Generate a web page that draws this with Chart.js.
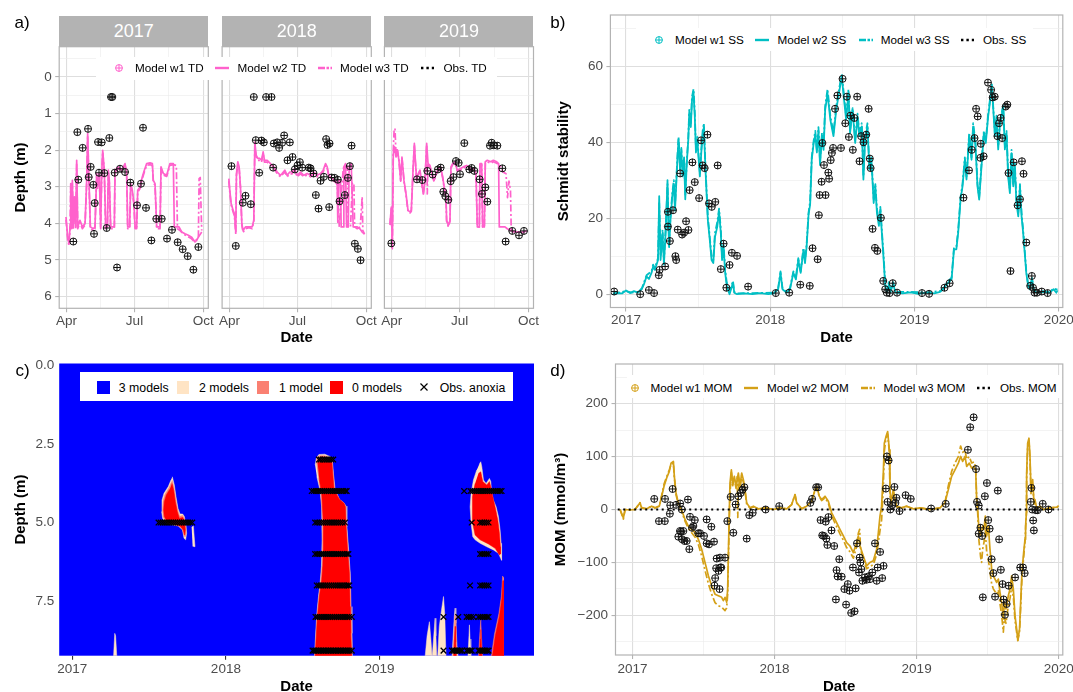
<!DOCTYPE html>
<html><head><meta charset="utf-8"><title>Lake model comparison</title>
<script src="https://cdn.jsdelivr.net/npm/chart.js@4.4.1/dist/chart.umd.min.js"></script>
<style>
html,body{margin:0;padding:0;background:#fff;}
#root{position:relative;width:1073px;height:692px;overflow:hidden;background:#fff;font-family:'Liberation Sans',Arial,Helvetica,sans-serif;}
#root canvas{position:absolute;}
.plab{position:absolute;font-size:17px;line-height:17px;color:#000;}
.strip{position:absolute;background:#b3b3b3;color:#fff;font-size:18px;display:flex;align-items:center;justify-content:center;}
.lbox{position:absolute;background:#fff;}
.ltxt{position:absolute;color:#000;white-space:nowrap;line-height:1;}
.lkey{position:absolute;line-height:0;}
</style></head>
<body><div id="root"></div>
<script>
// ================= DATA =================
// Panel a: thermocline depth (day of year, depth m)
const tdYears = ['2017', '2018', '2019'];
const tdMonthTicks = [91, 182, 274];
const tdMonthLabels = ['Apr', 'Jul', 'Oct'];
const tdMonthMinor = [136.5, 228];
const tdDepthTicks = [0, 1, 2, 3, 4, 5, 6];
const tdDepthMinor = [-0.5, 0.5, 1.5, 2.5, 3.5, 4.5, 5.5];
const tdSeriesNames = ['Model w1 TD', 'Model w2 TD', 'Model w3 TD', 'Obs. TD'];

const td2017Obs = [[100.1,4.5],[105.5,1.51],[106.8,2.81],[112.6,1.94],[119.8,1.42],[120.7,2.74],[123.3,2.46],[126.9,2.95],[127.8,4.29],[128.7,3.45],[133.2,1.78],[134.5,2.62],[138.1,1.79],[141.6,2.63],[144.8,4.13],[148.3,1.67],[150.6,0.55],[152.3,0.55],[155.5,2.62],[158.6,5.21],[162.6,2.51],[169.3,2.6],[176.4,2.89],[185.4,3.51],[190.7,2.92],[193.4,1.39],[197.4,3.58],[204.6,4.47],[211.2,3.88],[218.4,3.88],[225.5,4.42],[232.2,4.18],[239.8,4.52],[246.5,4.71],[253.2,4.9],[260.8,5.27],[267.5,4.65]];
const td2017W2 = [[90.3,3.83],[92.6,4.38],[94.3,4.56],[95.7,4.1],[96.6,2.92],[97.9,4.1],[98.8,2.83],[100.1,4.1],[101.5,3.28],[103.3,4.1],[104.6,2.28],[106,4.1],[109,3.92],[112.2,4.1],[115.8,4.01],[118,2.83],[119.3,1.55],[121.1,2.83],[122.9,4.1],[126.9,4.15],[129.1,4.1],[131.4,2.64],[132.7,3.01],[134.9,2.64],[136.7,4.1],[138.1,2.64],[139.4,2.01],[141.6,2.55],[143.4,4.1],[145.7,4.1],[147,2.55],[148.3,2.83],[150.1,4.1],[155,4.1],[155.9,2.55],[160.4,2.46],[164.8,2.55],[167.1,2.46],[169.3,2.37],[171.5,2.6],[172.9,4.1],[175.5,4.1],[176.9,2.92],[179.1,3.1],[181.3,3.46],[182.7,4.1],[184.9,4.1],[186.3,3.1],[189.4,3.01],[192.5,2.73],[195.2,2.55],[198.3,2.37],[202.8,2.35],[205.9,2.37],[207.2,2.83],[209.5,2.92],[211.7,4.1],[216.2,4.1],[217.5,2.46],[220.6,2.64],[225.1,2.69],[229.5,2.37],[234,2.37],[235.3,4.1],[241.6,4.1],[245.2,4.24],[249.6,4.29],[254.1,4.33],[258.6,4.38],[263,4.51],[265.2,4.47],[267.5,4.38],[272,4.24]];
const td2017W3 = [[90.3,3.9],[92.6,4.45],[94.3,4.62],[95.7,4.15],[96.6,3.0],[97.9,4.15],[98.8,2.9],[100.1,4.15],[101.5,3.35],[103.3,4.15],[104.6,2.35],[106,4.15],[109,3.98],[112.2,4.15],[115.8,4.05],[118,2.9],[119.3,1.6],[121.1,2.9],[122.9,4.15],[126.9,4.2],[129.1,4.15],[131.4,2.7],[132.7,3.05],[134.9,2.7],[136.7,4.15],[138.1,2.7],[139.4,2.05],[141.6,2.6],[143.4,4.15],[145.7,4.15],[147,2.6],[148.3,2.9],[150.1,4.15],[155,4.15],[155.9,2.6],[160.4,2.5],[164.8,2.6],[167.1,2.5],[169.3,2.42],[171.5,2.65],[172.9,4.15],[175.5,4.15],[176.9,2.95],[179.1,3.15],[181.3,3.5],[182.7,4.15],[184.9,4.15],[186.3,3.15],[189.4,3.05],[192.5,2.78],[195.2,2.6],[198.3,2.42],[202.8,2.4],[205.9,2.42],[207.2,2.88],[209.5,2.97],[211.7,4.15],[216.2,4.15],[217.5,2.5],[220.6,2.68],[225.1,2.72],[229.5,2.42],[234,2.4],[238,2.42],[239.5,4.15],[243,4.2],[248,4.3],[253,4.36],[258,4.42],[262,4.5],[265,4.45],[267.5,4.4],[268.5,2.78],[270,2.75],[271,3.5],[272,4.2]];

const td2018Obs = [[93.7,2.44],[99.5,4.62],[108.9,3.44],[112.5,3.25],[119.6,3.48],[123.6,0.55],[126.3,1.73],[130.8,2.62],[133.9,1.74],[137,1.79],[140.1,0.55],[147.3,0.55],[149.5,2.48],[150.4,1.82],[154.9,1.79],[157.5,1.94],[161.5,1.8],[164.2,1.6],[168.7,2.28],[171.8,1.79],[175.4,2.19],[178.5,2.53],[182.1,2.42],[185.2,2.33],[188.3,2.48],[197.2,2.48],[199.5,2.5],[203.5,2.64],[206.6,3.23],[210.2,3.6],[212.9,2.84],[217.3,2.73],[220.4,1.7],[222.2,1.86],[224.5,3.56],[224.9,1.82],[227.6,2.75],[231.6,2.76],[236,2.81],[238.3,3.4],[245.4,3.23],[249.5,2.76],[252.1,2.44],[254.4,1.88],[258.8,4.56],[262.8,4.7],[266.4,5.01]];
const td2018W2 = [[90.2,2.78],[91.5,3.1],[93.3,3.46],[96,3.65],[97.7,3.74],[99.5,4.24],[100.4,2.64],[102.2,2.32],[104,2.46],[105.8,3.01],[107.6,4.01],[109.3,4.2],[112.5,4.1],[116.9,4.1],[121.4,4.1],[123.6,3.92],[125,1.78],[126.7,2.14],[129,2.23],[131.7,2.23],[133.9,2.28],[136.1,2.05],[137.9,2.28],[141.5,2.28],[145.9,2.37],[150.4,2.46],[154.9,2.6],[159.3,2.69],[161.5,2.64],[165.1,2.55],[168.2,2.69],[171.8,2.6],[174.9,2.6],[178.1,2.51],[181.6,2.69],[186.1,2.6],[190.5,2.69],[195,2.64],[199.5,2.69],[203.9,2.6],[208.4,2.69],[212.9,2.64],[216.4,2.55],[219.6,2.37],[221.8,2.46],[224,2.69],[228.5,2.78],[232.9,2.83],[235.2,2.92],[236,3.97],[237.4,2.83],[239.6,2.83],[240.5,4.1],[243.2,4.1],[244.1,2.46],[246.3,2.37],[247.7,4.1],[249.9,4.1],[251.2,2.46],[253.9,2.37],[256.6,4.1],[262,4.1],[265.5,4.15],[268.6,4.24],[271.8,4.3]];
const td2018W3 = [[90.2,2.85],[91.5,3.15],[93.3,3.5],[96,3.7],[97.7,3.8],[99.5,4.3],[100.4,2.7],[102.2,2.4],[104,2.5],[105.8,3.05],[107.6,4.05],[109.3,4.25],[112.5,4.15],[116.9,4.12],[121.4,4.15],[123.6,3.95],[125,1.85],[126.7,2.2],[129,2.28],[131.7,2.28],[133.9,2.33],[136.1,2.1],[137.9,2.33],[141.5,2.33],[145.9,2.42],[150.4,2.5],[154.9,2.65],[159.3,2.73],[161.5,2.68],[165.1,2.6],[168.2,2.73],[171.8,2.65],[174.9,2.65],[178.1,2.55],[181.6,2.73],[186.1,2.65],[190.5,2.73],[195,2.68],[199.5,2.73],[203.9,2.65],[208.4,2.73],[212.9,2.68],[216.4,2.6],[219.6,2.42],[221.8,2.5],[224,2.73],[228.5,2.82],[232.9,2.88],[235.2,2.95],[236.5,3.5],[238,4.1],[240.5,3.3],[243.2,2.5],[246.3,2.4],[248.5,2.45],[250,4.1],[253,4.1],[255.5,2.9],[257.5,2.9],[258.5,4.1],[262,4.15],[266,4.1],[268.6,3.28],[269.5,4.2],[271.8,4.3]];

const td2019Obs = [[90.5,4.55],[124.8,2.8],[132,2.82],[138.7,2.57],[145.8,2.67],[152.9,2.53],[156.5,2.48],[160.1,3.14],[162.8,3.26],[166.8,3.36],[169.9,2.85],[173.5,2.74],[177,2.3],[180.6,2.35],[182.4,2.66],[188.2,1.81],[194.9,2.53],[198,2.49],[201.6,2.57],[208.7,2.8],[211.8,3.2],[216.3,3.02],[219,3.41],[222.5,1.88],[224.8,1.8],[227.5,1.87],[232.4,1.88],[239.1,2.5],[243.5,4.5],[252.4,4.21],[261.4,4.33],[268,4.21]];
const td2019W2 = [[88.7,4.01],[90.5,3.56],[91.8,4.65],[93.1,2.1],[94.9,1.91],[96.7,2.19],[98.5,2.01],[100.7,2.28],[103,2.83],[104.7,2.19],[107.4,2.83],[110.1,3.19],[112.8,3.65],[115.5,3.69],[117.2,3.65],[119.9,2.37],[121.3,1.82],[122.6,2.28],[124.4,2.83],[126.6,2.64],[128.8,2.55],[133.3,3.19],[135.5,2.83],[137.8,1.82],[139.6,2.37],[142.2,2.42],[144.9,2.64],[147.6,2.83],[150.3,2.64],[153.4,2.51],[156.5,2.46],[159.2,2.73],[161.9,3.1],[163.6,3.28],[164.5,3.92],[166.8,4.06],[169,3.92],[170.3,2.46],[172.6,2.37],[175.7,2.32],[178.8,2.55],[182.4,2.51],[186.8,2.46],[191.3,2.42],[194.9,2.46],[198,2.55],[201.1,2.51],[203.8,2.64],[205.6,4.1],[208.3,4.1],[209.2,2.37],[211.4,2.37],[212.7,4.1],[215,4.1],[216.3,2.32],[219,2.28],[223.4,2.32],[227,2.28],[231.5,2.32],[234.1,2.37],[235,4.1],[242.6,4.1],[245.7,4.15],[250.2,4.2],[253.8,4.24],[260.5,4.24],[267.2,4.24],[271.6,4.21]];
const td2019W3 = [[88.7,4.05],[90.5,3.6],[91.8,4.7],[93.1,2.0],[94.2,1.45],[95.4,1.41],[96.7,2.1],[98.5,1.95],[100.7,2.3],[103,2.85],[104.7,2.2],[107.4,2.85],[110.1,3.22],[112.8,3.68],[115.5,3.72],[117.2,3.68],[119.9,2.4],[121.3,1.85],[122.6,2.3],[124.4,2.85],[126.6,2.68],[128.8,2.58],[133.3,3.22],[135.5,2.86],[137.8,1.85],[138.6,3.2],[139.6,2.4],[142.2,2.45],[144.9,2.68],[147.6,2.86],[150.3,2.68],[153.4,2.55],[156.5,2.5],[159.2,2.76],[161.9,3.13],[163.6,3.3],[164.5,3.95],[166.8,4.1],[169,3.95],[170.3,2.5],[172.6,2.4],[175.7,2.35],[178.8,2.58],[182.4,2.55],[186.8,2.5],[191.3,2.45],[194.9,2.5],[198,2.58],[201.1,2.55],[203.8,2.68],[205.6,4.1],[208.3,4.1],[209.2,2.4],[211.4,2.4],[212.7,4.1],[215,4.1],[216.3,2.36],[219,2.32],[223.4,2.36],[227,2.32],[231.5,2.36],[236,2.42],[240,2.6],[244,2.65],[246,3.3],[248,2.85],[250,3.1],[251,4.2],[255,4.22],[260.5,4.25],[267.2,4.26],[271.6,4.22]];

// Shared date axis (days since 2017-01-01)
const yearTicks = [0, 365, 730, 1095];
const yearLabels = ['2017', '2018', '2019', '2020'];
const yearMinor = [182.5, 547.5, 912.5];

// Panel b: Schmidt stability
const ssTicks = [0, 20, 40, 60];
const ssMinor = [10, 30, 50, 70];
const ssSeriesNames = ['Model w1 SS', 'Model w2 SS', 'Model w3 SS', 'Obs. SS'];
const ssObs = [[-30,0.7],[36,0],[58,1.1],[71,0.3],[83,5],[85,6.4],[99,7.3],[106,17.8],[106,21.7],[111,14],[119,22.1],[125,10],[127,9],[131,17],[137,31.8],[142,15.7],[147,16.2],[152,19.2],[158,16.9],[161,27.4],[168,34.7],[174,29.5],[185,25.3],[190,40.5],[194,33.9],[199,33.2],[206,42],[210,23.9],[217,23],[226,24.3],[232,33.9],[240,6.6],[247,13.3],[254,1.7],[262,7.7],[268,10.9],[281,10.1],[309,2],[379,0.3],[413,0.4],[441,2.5],[465,2.2],[472,12.1],[485,9.2],[488,20.8],[490,26.1],[495,29.6],[497,39.8],[501,34],[505,26.1],[512,32],[514,30.4],[518,35.3],[521,37.2],[524,38.5],[529,48.8],[535,52.3],[544,38.5],[548,56.7],[555,45],[559,52],[564,41.4],[568,47],[574,38],[578,46.4],[585,52],[591,35],[595,41.6],[601,40],[608,42],[614,48.8],[617,35.7],[619,33.2],[624,17.2],[630,12.2],[636,11.4],[645,20.1],[651,3.5],[656,1.3],[660,0.4],[667,0.3],[675,2.9],[686,0.4],[749,0.3],[767,0.1],[806,1.7],[819,2.9],[854,25.4],[868,32.6],[875,38],[882,41.1],[886,48.8],[890,46.8],[897,35.9],[898,39.6],[905,36.3],[916,55.7],[924,53.8],[928,51.8],[933,52],[940,41.6],[944,45],[948,46.4],[952,41.1],[961,49.4],[965,49.9],[968,31.9],[973,6.1],[981,34.7],[991,23.4],[997,25],[1002,35],[1006,31.7],[1013,13.6],[1023,2.2],[1027,4.8],[1030,1.7],[1034,0.4],[1040,0.4],[1052,0.7],[1067,0.3]];
const ssW2 = [[-33,0],[-20,0.3],[-10,0.2],[0,1],[10,0.3],[20,0.8],[30,0.4],[39.5,1.3],[45,2.5],[52,4.7],[58,4],[64.5,5.6],[68.7,7.3],[73,6.4],[81,9],[84,25.8],[87.5,9],[92.5,16],[96,7.8],[101,17.8],[105,30],[109,12.4],[112.5,19.5],[117.5,26.3],[121,29],[124,22],[130,35.4],[133,40.7],[136.6,32.8],[140,38],[143,31],[147,35.4],[150,25],[153.5,34],[157.7,40.7],[160,47.7],[164,44],[167,51],[170.5,53.4],[174,47],[177,37.3],[180.5,40.7],[184,35.4],[187,31],[190.5,37.3],[194,42],[197,44],[200.6,34],[204,26.3],[207,19.6],[212,14.3],[216.5,9],[221,8.2],[225,15],[231,17.8],[235.5,21.8],[240,16],[243,9],[247,12.4],[251,5.6],[255,2.2],[262,0],[270.7,3],[274,0.4],[281,0],[300,0.2],[320,0],[340,0.3],[360,0],[374,0.2],[385,1.3],[391,5.6],[396,1.3],[406,0.4],[415,1.3],[423.5,5.6],[430,3.9],[436,9],[442,5.6],[449,11.6],[453,8.2],[457,12.4],[462,21],[466,23.6],[470,35.4],[475,39.8],[479,42],[483,37.3],[487,43],[491,34],[496,41.6],[500,38],[504,48.5],[510,52.8],[517,46],[525,41.6],[532,48.5],[537.5,52],[546,57.3],[552,51],[557,46],[563,53],[567,42.4],[573.5,48.5],[580,39.8],[586,46.8],[590.5,41.6],[596.6,44.2],[600.8,30.2],[605,40.7],[611,44.2],[616,32.8],[621,35.4],[626.8,24],[631,28.4],[635,21.4],[640,18],[643.6,22.3],[648,15.3],[652,9],[656,2.2],[660.6,0.4],[665,2.6],[669,0.4],[675.8,2.8],[682,0.4],[700,0.2],[720,0.5],[740,0.1],[760,0.4],[780,0.2],[795,0.6],[803,1.3],[815,3],[824,3.9],[830,11.8],[836,11.8],[840.7,16.2],[846.6,24.9],[851.6,28.4],[857.5,35.4],[861.7,30.2],[868.5,41.6],[874.4,35.4],[878.6,44.2],[884.5,39],[889.5,28.4],[893.8,24.9],[899.7,33.7],[905.6,42.4],[910.6,39.8],[916.5,46.8],[920.8,50.3],[925.8,54.7],[929,49.4],[933.5,41.6],[937.7,46],[941.9,38.1],[946,44.2],[950.4,46.8],[954.6,49.4],[958.8,38.1],[963,42.4],[967,31],[971.5,26.6],[975.7,37.1],[980,28.4],[984,33.7],[988,24],[992.7,20.5],[997,28.4],[1001,20.5],[1005,16.2],[1009,10.9],[1013,5.6],[1017.6,2.2],[1022,1.3],[1027.6,3.9],[1032,0.9],[1039,0.4],[1055.5,0.6],[1072,0.4],[1082,1.3],[1089,0.4],[1092,1]];
const ssW3 = [[-33,0.2],[-15,0.5],[0,0.8],[15,0.4],[30,0.6],[40,1.5],[52,5],[64.5,6],[68.7,7.8],[73,6.8],[81,9.5],[84,24],[87.5,10],[92.5,17],[96,8.5],[101,18.5],[105,29],[109,13],[112.5,20.5],[117.5,27],[121,30],[124,23],[130,36],[133,41.5],[136.6,33.5],[140,38.5],[143,31.5],[147,36],[150,26],[153.5,34.5],[157.7,41.5],[160,48.5],[164,45],[167,52],[171,54],[174,48],[177,38],[180.5,41.5],[184,36],[187,32],[190.5,38],[194,43],[197,45],[200.6,35],[204,27],[207,20.5],[212,15],[216.5,10],[221,9],[225,16],[231,19],[235.5,22.5],[240,17],[243,10],[247,13],[251,6.5],[255,3],[262,0.5],[270.7,3.5],[274,0.6],[281,0.2],[320,0.3],[374,0.4],[385,1.6],[391,6],[396,1.6],[406,0.6],[415,1.6],[423.5,6],[430,4.5],[436,9.5],[442,6],[449,12.2],[453,9],[457,13],[462,21.5],[466,24.5],[470,36],[475,40.5],[479,43],[483,38],[487,44],[491,35],[496,42.5],[500,39],[504,49.5],[510,54],[517,47],[525,42.5],[532,49.5],[537.5,53],[546,58],[552,52],[557,47],[563,54],[567,43],[573.5,49],[580,40.5],[586,47.5],[590.5,42.5],[596.6,45],[600.8,31],[605,41.5],[611,45],[616,33.5],[621,36],[626.8,25],[631,29],[635,22.5],[640,19],[643.6,23],[648,16],[652,10],[656,3],[660.6,0.8],[665,3.2],[669,0.8],[675.8,3.2],[682,0.6],[720,0.6],[760,0.5],[795,0.8],[803,1.6],[815,3.4],[824,4.4],[830,12.3],[836,12.5],[840.7,17],[846.6,25.5],[851.6,29],[857.5,36],[861.7,31],[868.5,42.5],[874.4,36],[878.6,45],[884.5,40],[889.5,29],[893.8,25.5],[899.7,34.5],[905.6,43],[910.6,40.5],[916.5,47.5],[920.8,51],[925.8,55.5],[929,50],[933.5,42.5],[937.7,47],[941.9,39],[946,45],[950.4,47.5],[954.6,50],[958.8,39],[963,43],[967,32],[971.5,27.5],[975.7,38],[980,29],[984,34.5],[988,25],[992.7,21.5],[997,29],[1001,21.5],[1005,17],[1009,11.5],[1013,6],[1017.6,2.8],[1022,1.6],[1027.6,4.3],[1032,1.2],[1039,0.6],[1055.5,0.8],[1072,0.6],[1082,1.5],[1092,1.2]];

// Panel c: anoxia agreement (days since 2017-01-01, depth m)
const anoxDepthTicks = [0, 2.5, 5, 7.5];
const anoxYearTicks = [0, 365, 730];
const anoxYearLabels = ['2017', '2018', '2019'];
const anoxCategories = ['3 models', '2 models', '1 model', '0 models'];
const anox2017Outer = [[237.7,3.545],[242.5,3.81],[246.5,4.18],[251.2,4.55],[256,4.73],[262.3,4.73],[266.3,4.81],[270.2,5.08],[271.8,5.34],[269.4,5.55],[265.5,5.5],[262.3,5.24],[252,5.11],[240.1,5.08],[224.3,5.03],[214.8,4.87],[212.4,4.66],[213.2,4.29],[218,4.07],[228.2,3.86],[234.6,3.65]];
const anox2017Salmon = [[237.3,3.66],[241.7,3.9],[245.7,4.26],[250.4,4.6],[255.2,4.8],[262.3,4.78],[266.6,4.88],[269.4,5.15],[270.4,5.35],[268,5.46],[264.7,5.38],[261,5.2],[252,5.1],[240.1,5.06],[225,5.0],[216.6,4.84],[214.6,4.62],[215.8,4.31],[220.6,4.1],[229.8,3.9],[235.6,3.72]];
const anox2017Red = [[237,3.76],[240.9,3.97],[244.9,4.34],[249.6,4.66],[254.4,4.87],[262.3,4.84],[267,4.97],[268.6,5.24],[267,5.4],[263.9,5.24],[256,5.11],[240.1,5.05],[225.9,4.98],[218.7,4.81],[217.1,4.6],[218.7,4.34],[223.5,4.13],[231.4,3.95]];
const anox2017Sliver = [[283.7,5.15],[287.7,5.11],[291.6,5.77],[286,5.75]];
const anox2017Spring = [[98,9.3],[101,8.52],[103,8.6],[106,9.3]];
const anox2018Outer = [[577,3.17],[580,2.95],[586,2.84],[600,2.83],[612,2.9],[617.5,2.97],[620.5,3.44],[624.5,3.95],[635,4.27],[645,4.37],[650.5,4.48],[652.5,5.13],[656,5.77],[660.5,6.61],[662.3,7.67],[664.6,8.52],[665.8,9.3],[575.2,9.3],[577.5,8.73],[580.5,7.99],[585,7.35],[589,6.9],[592,6.4],[593.5,5.56],[592.5,4.5],[588.5,3.97],[581,3.54]];
const anox2018Salmon = [[580,3.12],[582,2.92],[588,2.88],[600,2.88],[612,2.94],[617,3.0],[620,3.44],[623.5,3.96],[635,4.27],[645.5,4.38],[649.8,4.49],[651.5,5.13],[655,5.77],[659.5,6.61],[661.2,7.67],[663.4,8.52],[664.8,9.3],[576,9.3],[578.5,8.73],[581.5,7.99],[586,7.35],[590.5,6.86],[593.5,6.4],[595,5.7],[594.5,4.9],[590.5,4.02],[585,3.6]];
const anox2018Red = [[583.1,3.12],[584.7,2.96],[590,2.92],[600,2.93],[610,2.97],[616.4,3.02],[618.8,3.44],[622,3.97],[634.6,4.26],[645.7,4.39],[648.9,4.5],[650.5,5.13],[653.6,5.77],[658.4,6.61],[660,7.67],[661.6,8.52],[664,9.3],[576.8,9.3],[579.2,8.73],[582.4,7.99],[587.1,7.35],[592.7,6.82],[595,6.4],[596.6,5.77],[596.6,5.03],[592.7,4.07],[587.1,3.65]];
const anox2019Outer = [[967,3.15],[970.5,3.07],[973,3.23],[977,3.65],[983.2,3.76],[991.1,3.6],[994.3,3.7],[996.7,4.07],[1000.6,4.29],[1007,4.5],[1012.5,4.81],[1016.5,5.24],[1018.9,5.66],[1020.4,6.08],[1019.5,6.2],[1018,6.14],[1012.5,5.98],[1000.6,5.87],[984.8,5.77],[969,5.66],[957.1,5.55],[951.5,5.45],[947.6,5.03],[945.2,4.5],[947.6,4.07],[953.1,3.65],[961,3.33]];
const anox2019Red = [[965,3.44],[970.5,3.39],[975.3,3.7],[984.8,3.81],[991.1,3.7],[994.3,3.86],[999.1,4.18],[1005.4,4.55],[1011,4.92],[1014.9,5.34],[1017.3,5.77],[1017.5,6.0],[1014.9,6.03],[1004.6,5.82],[988.7,5.68],[969,5.55],[957.1,5.4],[951.5,5.03],[949.9,4.6],[951.5,4.18],[957.1,3.76]];
const anox2019Bottom = [[838,9.3],[843,8.6],[848.5,8.15],[852,8.7],[855,9.3],[857,9.3],[860,8.4],[862,8.04],[864,8.6],[866,9.3],[868,9.3],[872,8.3],[877,7.8],[882,7.35],[885,7.9],[888,9.3]];
const anox2019SpikeOuter = [[902,9.3],[905,8.6],[907.5,8.0],[909.5,7.72],[911.5,8.2],[914,8.9],[917,9.3]];
const anox2019SpikeSalmon = [[904,9.3],[907,8.5],[909.5,7.95],[911.5,8.5],[914,9.3]];
const anox2019SpikeRed = [[906,9.3],[908.5,8.6],[909.8,8.3],[911,8.8],[912.5,9.3]];
const anox2019Small = [[940,9.3],[942.5,8.6],[943.6,8.25],[945,8.7],[947,9.3]];
const anox2019SmallSalmon = [[965,9.3],[968,8.6],[970.5,8.09],[972.5,8.7],[975,9.3]];
const anox2019SmallRed = [[967,9.3],[969.5,8.7],[970.8,8.4],[972,8.9],[973.5,9.3]];
const anox2019RightSalmon = [[995,9.3],[1003,8.55],[1013.5,7.9],[1019.5,7.35],[1022.4,6.7],[1024.6,6.75],[1024.6,9.3]];
const anox2019RightRed = [[997.5,9.3],[1005,8.6],[1015,7.95],[1020.7,7.4],[1023,6.85],[1024.4,6.85],[1024.4,9.3]];
// observed anoxia: sampling days for each observed depth
const anoxObsDepths = [3, 4, 5, 6, 7, 8, 9.07];
const anoxObsD3 = [586,590,595,600,605,610,615,620];
const anoxObsD4 = [569,574,579,584,589,594,599,604,609,614,619,624,629,634,639,644,649,652,931,946,951,956,961,966,971,976,981,986,991,996,1001,1006,1011,1016,1020];
const anoxObsD5 = [205,210,215,220,225,230,235,240,245,250,255,260,265,270,275,280,285,577,582,587,592,597,602,607,612,617,622,627,632,637,642,648,949,969,974,979,984,989];
const anoxObsD6 = [577,582,587,592,597,602,607,612,617,622,627,632,637,642,647,652,656,969,974,979,984,989];
const anoxObsD7 = [581,586,591,596,601,606,611,616,621,626,631,636,641,646,651,655,658,945,969,974,979,984,989];
const anoxObsD8 = [578,583,588,593,598,603,608,613,618,623,628,633,638,643,648,653,658,664,882,917,937,942,947,953,965,970,975,980,985,989];
const anoxObsD9 = [571,575,579,583,587,591,595,599,603,607,611,615,619,623,627,631,635,639,643,647,651,655,659,664,882,902,906,910,914,918,922,926,937,941,945,949,965,969,973,977,981,985,989];

// Panel d: metalimnetic oxygen minimum
const momTicks = [-200, -100, 0, 100, 200];
const momMinor = [-250, -150, -50, 50, 150, 250];
const momSeriesNames = ['Model w1 MOM', 'Model w2 MOM', 'Model w3 MOM', 'Obs. MOM'];
const momObs = [[55.9,20],[68,-22],[83,-22],[83.5,20],[96,-8],[97,8],[103,38.8],[112,8.8],[117.8,-51.4],[122,-40.7],[122.4,11.3],[124.9,-42],[126.7,0],[127.6,-56.4],[130.6,-40.7],[133.7,-59.5],[139.2,-59.5],[142.4,18.8],[146,-75],[147.8,-13.8],[152.9,-34.5],[156.3,-31.3],[160,-20],[169,-45],[173.4,-45],[183.7,-50],[190.5,-18.8],[190.6,-64],[196.6,-65.8],[202.6,-32.6],[209.4,-60.8],[212.4,-129.7],[210.6,-144],[216.3,-92.7],[215,-111],[221,-116],[224.8,-91],[225.5,-109.6],[223.7,-150.4],[228,-109.6],[237.7,-91],[243.7,-22],[252.3,23.8],[259,-43.9],[265,9.4],[272,25],[278,31.3],[283,37.6],[287.4,42],[293.4,-55],[300,-10.7],[308.8,-6.3],[342,0],[377,6.3],
[457,12.5],[461.4,20],[472,42],[477,42],[483.3,-20],[487.6,-48.9],[492,-50],[496.4,-23],[498,-55],[500.7,-67],[503.4,-14.4],[511.3,-39.5],[518.2,-69],[522.6,-170],[524.3,-114.7],[527,-126.6],[531.3,-94],[537.4,-127],[544.4,-150.4],[548.8,-179.8],[553.2,-141],[557.6,-153.5],[561.9,-195.5],[566.3,-109.6],[570.6,-192.4],[573.3,-149],[576.8,-64],[582,-119],[583.7,-90.9],[585.5,-100],[588,-112.8],[590.8,-134.7],[596.9,-128.4],[601.2,-132.8],[605.6,-126.6],[610,-131.6],[616,-119],[623,-64],[627.5,-134.7],[630,-109.6],[636.2,-80.2],[641.5,-129.7],[645,-106.5],[651,39.5],[653.7,100.3],[655.4,14.4],[658,92.7],[662.4,0],[666.8,8.1],[672.9,42.6],[675.5,12.5],[678,22],[686,-3],[701.7,27],[714.8,20],
[767.3,1.9],[804.8,10.7],[861.7,112.8],[867.7,155.4],[876.5,174.2],[882.6,76.4],[885.3,14.4],[889.6,7.5],[889.6,-45.7],[894,-34.5],[898.4,-50],[900,-166],[905.3,25],[910.6,50],[914,-20],[917.6,-36.3],[922.8,-94],[927.2,-120.3],[931.6,-164.8],[938.6,35.7],[942,-56.4],[946.4,-114],[950.8,-141],[953.4,-170],[957,-199],[961.3,-178.6],[966.5,-144],[983,-128.4],[996.3,-109.6],[1003.2,-109.6],[1007.6,-120.3],[1023.4,14.4],[1025,40.7],[1027,0],[1029.5,-20.7],[1031.2,-39.5],[1036.4,-1.3],[1040.8,-1.3],[1054,10.7],[1068.8,0]];
const momW2 = [[-32,0],[-23.5,-15.7],[-19,0],[-6.4,-1],[6.4,0],[19.3,12.5],[23.6,3],[36.4,1.3],[49.3,6.3],[57.8,3],[69,6.3],[75,25],[81,44],[87.8,59.5],[94.6,72],[99,87.7],[105,90.9],[107.5,62.7],[111.8,31.3],[117.8,12.5],[126,0],[134.9,-18.8],[143.5,-31.3],[152,-37.6],[160.6,-43.9],[169.2,-56.4],[177.7,-75],[186.3,-100],[194.9,-125.3],[203.4,-144],[212,-160],[220.6,-163],[229,-166],[233.4,-172.3],[237.7,-166],[242,-175.4],[244.5,-150.4],[248,-25],[250.5,50],[254,75],[257.4,50],[261.7,62.7],[266,43.9],[272,69],[276.2,43.9],[280.5,69],[284.8,56.4],[289,37.6],[293.4,12.5],[302,3],[310.5,6.3],[323,1.3],[344.7,3],[361.9,0],[379,3],[396.2,1.3],[409,9.4],[417.6,28.2],[421.8,12.5],[434.7,1.3],[447.5,6.3],[460.4,15.7],[469,37.6],[473.2,44],[480,25],[486,18.8],[494.6,25],[503.2,15.7],[511.8,-6.3],[520.3,-18.8],[533,-37.6],[541.7,-50],[550.2,-62.7],[558.8,-69],[567.4,-81.5],[575.9,-62.7],[580.2,-50],[584.5,-69],[593,-87.7],[601.6,-106.5],[610,-100],[618.7,-97],[627.3,-75],[631.6,-43.9],[635.9,-12.5],[640,6.3],[644.4,69],[647,125.3],[651.3,137.8],[655.6,147.2],[659.9,112.8],[661.6,37.6],[664.1,12.5],[670.1,37.6],[674.4,18.8],[678.7,6.3],[691.6,3],[704.4,6.3],[721.5,1.3],[738.7,3],[764.4,0],[790,3],[802.9,12.5],[811.5,37.6],[820,62.7],[828.6,75],[837.2,87.7],[843.1,100.3],[848.3,90.9],[854.3,100.3],[858.6,81.5],[865.4,87.7],[871.4,78.3],[877.4,81.5],[881.7,75],[884.3,18.8],[886.8,0],[890.3,-37.6],[894.5,-50],[899.7,-31.3],[903.1,-37.6],[906.5,-12.5],[910,-50],[914.3,-31.3],[918.5,-75],[922.8,-112.8],[927,-125.3],[931.4,-131.6],[935.6,-137.8],[940,-131.6],[944.2,-156.6],[948.5,-175.4],[952.8,-206.8],[955.4,-175.4],[959.6,-188],[965.6,-163],[970,-150.4],[974.2,-125.3],[978.5,-150.4],[982.8,-200.5],[987,-225.6],[990,-247.5],[994.5,-225.6],[997,-181.7],[1000.6,-119],[1005,-81.5],[1008.5,-56.4],[1010,-31.3],[1012,-6.3],[1012.7,69],[1015.3,125.3],[1018.7,134.7],[1021.3,100.3],[1023.9,37.6],[1028.2,56.4],[1031.6,12.5],[1034,18.8],[1038.4,3],[1047,6.3],[1055.7,0],[1073,3],[1090.7,4.4],[1095,7.5]];
const momW3 = [[-32,0],[-23.5,-18],[-19,0],[-6.4,-1],[6.4,0],[19.3,13],[23.6,3],[36.4,1.3],[49.3,7],[57.8,3],[69,7],[75,27],[81,48],[87.8,62],[94.6,75],[99,85],[105,88],[107.5,60],[111.8,28],[117.8,10],[126,-3],[134.9,-22],[143.5,-36],[152,-44],[160.6,-52],[169.2,-66],[177.7,-88],[186.3,-115],[194.9,-140],[203.4,-160],[212,-176],[220.6,-182],[229,-184],[233.4,-188],[237.7,-191],[242,-186],[244.5,-160],[248,-40],[250.5,30],[254,70],[257.4,45],[261.7,58],[266,40],[269,62],[270.5,-15],[272,62],[276.2,40],[280.5,64],[284.8,52],[289,35],[293.4,10],[302,3],[310.5,5],[323,1],[344.7,3],[361.9,0],[379,3],[396.2,1.3],[409,9.4],[417.6,28],[421.8,12.5],[434.7,1.3],[447.5,6.3],[460.4,15],[469,36],[473.2,42],[480,24],[486,17],[494.6,22],[503.2,12],[511.8,-12],[520.3,-26],[533,-46],[541.7,-58],[550.2,-72],[558.8,-80],[567.4,-92],[575.9,-70],[580.2,-45],[583.7,-37.6],[586,-75],[593,-95],[601.6,-112],[610,-108],[618.7,-104],[627.3,-85],[631.6,-62],[635.9,-40],[640,-20],[644.4,40],[647,110],[651.3,135],[655.6,142],[659.9,108],[661.6,30],[664.1,10],[670.1,34],[674.4,16],[678.7,5],[691.6,3],[704.4,6],[721.5,1.3],[738.7,3],[764.4,0],[790,3],[802.9,14],[811.5,45],[820,72],[828.6,88],[837.2,100],[843.1,120],[848.3,108],[854.3,112],[858.6,95],[865.4,100],[871.4,88],[877.4,90],[881.7,80],[884.3,20],[886.8,-5],[890.3,-60],[894.5,-90],[897,-100],[899.7,-75],[903.1,-62],[906.5,-40],[910,-80],[914.3,-95],[918.5,-118],[922.8,-140],[927,-150],[931.4,-155],[935.6,-160],[940,-152],[944.2,-178],[948.5,-200],[952.8,-232],[955.4,-205],[959.6,-215],[965.6,-182],[970,-168],[974.2,-145],[978.5,-165],[982.8,-210],[987,-232],[990,-248],[994.5,-230],[997,-190],[1000.6,-130],[1005,-90],[1008.5,-62],[1010,-36],[1012,-10],[1012.7,60],[1015.3,118],[1018.7,130],[1021.3,95],[1023.9,30],[1028.2,50],[1031.6,10],[1034,15],[1038.4,2],[1047,5],[1055.7,0],[1073,3],[1090.7,4],[1095,7]];
const momObsLine = [[-38,0],[1095,0]];

// ================= RENDER =================
const FONT = "'Liberation Sans', Arial, Helvetica, sans-serif";
Chart.defaults.font.family = FONT;
Chart.defaults.color = '#4d4d4d';
const PINK = '#ff61cc', CYAN = '#00bfc4', GOLD = '#d4a017', OBSC = '#111111';
const HEAT = {blue: '#0000ff', bisque: '#ffe4c4', salmon: '#fa8072', red: '#ff0000'};
const GRID_MAJ = '#dedede', GRID_MIN = '#ebebeb', BORDER = '#b3b3b3';
const W3DASH = [7, 2.5, 2, 2.5];
const root = document.getElementById('root');

const P = arr => arr.map(p => ({x: p[0], y: p[1]}));
function ticker(major, minor) {
  return s => {
    s.ticks = major.map(v => ({value: v, mj: true}))
      .concat(minor.map(v => ({value: v, mj: false})))
      .sort((a, b) => a.value - b.value);
  };
}
function gridOpts(onArea, tickColor, drawTicks) {
  return {
    display: true, drawOnChartArea: onArea, drawTicks: drawTicks, tickLength: 4,
    color: c => (c.tick && c.tick.mj) ? GRID_MAJ : GRID_MIN,
    lineWidth: c => (c.tick && c.tick.mj) ? 1.1 : 0.6,
    tickColor: c => (c.tick && c.tick.mj) ? tickColor : 'rgba(0,0,0,0)',
    tickWidth: 1.1
  };
}

const lineDS = (data, color, dash, w) => ({data: P(data), borderColor: color, backgroundColor: color, borderWidth: w || 1.6, borderDash: dash || [], borderJoinStyle: 'round', pointRadius: 0, fill: false, tension: 0});
// observed points drawn as circle-plus: a circle marker and a plus marker on the same values
const obsDS = data => [
  {data: P(data), showLine: false, pointStyle: 'cross', pointRadius: 3.5, pointBorderWidth: 1, pointBorderColor: OBSC, pointBackgroundColor: 'rgba(0,0,0,0)', borderColor: OBSC},
  {data: P(data), showLine: false, pointStyle: 'circle', pointRadius: 3.5, pointBorderWidth: 1, pointBorderColor: OBSC, pointBackgroundColor: 'rgba(0,0,0,0)', borderColor: OBSC}
];
const polyDS = (data, color) => ({data: P(data), showLine: true, borderColor: color, backgroundColor: color, borderWidth: 0.5, pointRadius: 0, fill: 'shape', tension: 0});

function makeChart(o) {
  const W = Math.ceil(o.R - o.cl + 25), H = Math.ceil(o.B - o.ct + 45);
  const cv = document.createElement('canvas');
  cv.width = W; cv.height = H;
  cv.style.left = o.cl + 'px'; cv.style.top = o.ct + 'px';
  cv.style.width = W + 'px'; cv.style.height = H + 'px';
  root.appendChild(cv);
  const yW = o.L - o.cl, padTop = o.T - o.ct, padRight = o.cl + W - o.R, xH = o.ct + H - o.B;
  const tickCol = o.tickColor || BORDER;
  const showY = o.y.show !== false;
  const scales = {
    x: {
      type: 'linear', min: o.x.min, max: o.x.max, bounds: 'data',
      afterBuildTicks: ticker(o.x.major, o.x.minor),
      afterFit: s => { s.height = xH; },
      ticks: {autoSkip: false, maxRotation: 0, minRotation: 0, padding: o.x.pad, color: '#4d4d4d', font: {size: 13.5},
        callback: (v, i, t) => (t[i] && t[i].mj) ? o.x.label(v) : ''},
      grid: gridOpts(!o.noGrid, tickCol, true),
      border: {display: false},
      title: o.x.title ? {display: true, text: o.x.title, color: '#000', font: {size: 15, weight: 'bold'}, padding: {top: 0, bottom: o.ct + H - 9 - o.x.titleY}} : {display: false}
    },
    y: {
      type: 'linear', min: o.y.min, max: o.y.max, reverse: !!o.y.reverse, bounds: 'data',
      afterBuildTicks: ticker(o.y.major, o.y.minor),
      afterFit: s => { s.width = yW; },
      ticks: {display: showY, autoSkip: false, padding: o.y.pad || 3.5, color: '#4d4d4d', font: {size: 13.5},
        callback: (v, i, t) => (t[i] && t[i].mj) ? o.y.label(v) : ''},
      grid: gridOpts(!o.noGrid, tickCol, showY && !o.y.noTicks),
      border: {display: false},
      title: o.y.title ? {display: true, text: o.y.title, color: '#000', font: {size: 15, weight: 'bold'}, padding: {top: o.y.titleX - o.cl - 9, bottom: 0}} : {display: false}
    }
  };
  const deco = {
    id: 'deco',
    beforeDraw(ch) {
      if (!o.bg) return;
      const a = ch.chartArea, c = ch.ctx;
      c.save(); c.fillStyle = o.bg; c.fillRect(a.left, a.top, a.right - a.left, a.bottom - a.top); c.restore();
    },
    afterDraw(ch) {
      if (!o.border) return;
      const a = ch.chartArea, c = ch.ctx;
      c.save(); c.strokeStyle = BORDER; c.lineWidth = 1.2;
      c.strokeRect(a.left, a.top, a.right - a.left, a.bottom - a.top); c.restore();
    }
  };
  return new Chart(cv, {
    type: 'line',
    data: {datasets: o.datasets},
    options: {
      responsive: false, animation: false, events: [], devicePixelRatio: 1,
      layout: {padding: {left: 0, top: padTop, right: padRight, bottom: 0}},
      scales: scales,
      plugins: {legend: {display: false}, tooltip: {enabled: false}},
      elements: {point: {radius: 0}, line: {tension: 0}}
    },
    plugins: [deco]
  });
}

// ---- Panel a ----
const tdFacets = [
  {obs: td2017Obs, w2: td2017W2, w3: td2017W3, L: 59.2, R: 208.3, cl: 0},
  {obs: td2018Obs, w2: td2018W2, w3: td2018W3, L: 222.1, R: 371.3, cl: 212},
  {obs: td2019Obs, w2: td2019W2, w3: td2019W3, L: 384.4, R: 533.5, cl: 374}
];
tdFacets.forEach((f, i) => {
  makeChart({
    cl: f.cl, ct: 26, L: f.L, T: 46.7, R: f.R, B: 308.3, border: true,
    x: {min: 81.2, max: 280.8, major: tdMonthTicks, minor: tdMonthMinor, label: v => tdMonthLabels[tdMonthTicks.indexOf(v)], pad: 1.3, title: i === 1 ? 'Date' : null, titleY: 338},
    y: {min: -0.825, max: 6.325, reverse: true, major: tdDepthTicks, minor: tdDepthMinor, label: v => String(v), show: i === 0, title: i === 0 ? 'Depth (m)' : null, titleX: 20.5},
    datasets: [...obsDS(f.obs), lineDS(f.w2, PINK, null, 1.7), lineDS(f.w3, PINK, W3DASH, 1.7)]
  });
});

// ---- Panel b ----
makeChart({
  cl: 550, ct: 0, L: 610.4, T: 15, R: 1062.8, B: 307.5, border: true,
  x: {min: -39.5, max: 1105.4, major: yearTicks, minor: yearMinor, label: v => yearLabels[yearTicks.indexOf(v)], pad: 1.1, title: 'Date', titleY: 338},
  y: {min: -3.5, max: 73.5, major: ssTicks, minor: ssMinor, label: v => String(v), title: 'Schmidt stability', titleX: 563.5},
  datasets: [...obsDS(ssObs), lineDS(ssW2, CYAN, null, 1.8), lineDS(ssW3, CYAN, W3DASH, 1.8)]
});

// ---- Panel c ----
const anoxObsDays = [anoxObsD3, anoxObsD4, anoxObsD5, anoxObsD6, anoxObsD7, anoxObsD8, anoxObsD9];
const anoxObsPts = [];
anoxObsDays.forEach((days, k) => days.forEach(d => anoxObsPts.push({x: d, y: anoxObsDepths[k]})));
makeChart({
  cl: 0, ct: 340, L: 59.2, T: 363.5, R: 534, B: 655.7, noGrid: true, bg: HEAT.blue, tickColor: '#333',
  x: {min: -31, max: 1097, major: anoxYearTicks, minor: [], label: v => anoxYearLabels[anoxYearTicks.indexOf(v)], pad: 1.2, title: 'Date', titleY: 686.7},
  y: {min: -0.05, max: 9.23, reverse: true, major: anoxDepthTicks, minor: [], label: v => v.toFixed(1), noTicks: true, pad: 5, title: 'Depth (m)', titleX: 21},
  datasets: [
    {data: anoxObsPts, showLine: false, pointStyle: 'crossRot', pointRadius: 4, pointBorderWidth: 1.3, pointBorderColor: '#000', pointBackgroundColor: '#000', borderColor: '#000'},
    polyDS(anox2017Red, HEAT.red), polyDS(anox2018Red, HEAT.red), polyDS(anox2019Red, HEAT.red),
    polyDS(anox2019SpikeRed, HEAT.red), polyDS(anox2019SmallRed, HEAT.red), polyDS(anox2019RightRed, HEAT.red),
    polyDS(anox2017Salmon, HEAT.salmon), polyDS(anox2018Salmon, HEAT.salmon), polyDS(anox2019SpikeSalmon, HEAT.salmon),
    polyDS(anox2019SmallSalmon, HEAT.salmon), polyDS(anox2019RightSalmon, HEAT.salmon),
    polyDS(anox2017Outer, HEAT.bisque), polyDS(anox2017Sliver, HEAT.bisque), polyDS(anox2017Spring, HEAT.bisque),
    polyDS(anox2018Outer, HEAT.bisque), polyDS(anox2019Outer, HEAT.bisque), polyDS(anox2019Bottom, HEAT.bisque),
    polyDS(anox2019SpikeOuter, HEAT.bisque), polyDS(anox2019Small, HEAT.bisque)
  ]
});

// ---- Panel d ----
makeChart({
  cl: 545, ct: 340, L: 615.5, T: 364, R: 1062.8, B: 655, border: true,
  x: {min: -43.7, max: 1105.6, major: yearTicks, minor: yearMinor, label: v => yearLabels[yearTicks.indexOf(v)], pad: 1.9, title: 'Date', titleY: 686.7},
  y: {min: -275, max: 275, major: momTicks, minor: momMinor, label: v => v < 0 ? '\u2212' + Math.abs(v) : String(v), title: 'MOM (mmol/m\u00b3)', titleX: 561},
  datasets: [...obsDS(momObs), {data: P(momObsLine), borderColor: '#000', borderWidth: 2, borderDash: [2, 3.5], pointRadius: 0, fill: false},
    lineDS(momW2, GOLD, null, 1.7), lineDS(momW3, GOLD, W3DASH, 1.7)]
});

// ================= HTML overlays (strips, legends, panel labels) =================
function addDiv(cls, css, html) {
  const d = document.createElement('div');
  d.className = cls; d.style.cssText = css;
  if (html !== undefined) d.innerHTML = html;
  root.appendChild(d); return d;
}
function addText(t, left, cy, size) {
  const d = addDiv('ltxt', `left:${left}px;top:${cy - size / 2}px;font-size:${size}px;height:${size}px;`);
  d.textContent = t;
}
const svgCirclePlus = c => `<svg width="10" height="10" viewBox="0 0 10 10"><circle cx="5" cy="5" r="3.4" fill="none" stroke="${c}" stroke-width="1"/><path d="M1.6 5H8.4M5 1.6V8.4" stroke="${c}" stroke-width="1"/></svg>`;
const svgLine = (c, dash, w, sw) => `<svg width="${w}" height="6" viewBox="0 0 ${w} 6"><line x1="0" y1="3" x2="${w}" y2="3" stroke="${c}" stroke-width="${sw || 2.4}" ${dash ? `stroke-dasharray="${dash}"` : ''}/></svg>`;
const svgCross = () => `<svg width="10" height="10" viewBox="0 0 10 10"><path d="M1.5 1.5L8.5 8.5M8.5 1.5L1.5 8.5" stroke="#000" stroke-width="1.2"/></svg>`;
function addKey(svg, left, cy, h) { addDiv('lkey', `left:${left}px;top:${cy - h / 2}px;`, svg); }

function seriesLegend(box, cy, color, names, pos) {
  addDiv('lbox', `left:${box[0]}px;top:${box[1]}px;width:${box[2]}px;height:${box[3]}px;`);
  addKey(svgCirclePlus(color), pos[0] - 5, cy, 10);
  addText(names[0], pos[1], cy, 11.7);
  addKey(svgLine(color, null, 14), pos[2], cy, 6);
  addText(names[1], pos[3], cy, 11.7);
  addKey(svgLine(color, '7 1.5 2.5 1.5', 14), pos[4], cy, 6);
  addText(names[2], pos[5], cy, 11.7);
  addKey(svgLine('#000', '2.4 3', 13, 2.6), pos[6], cy, 6);
  addText(names[3], pos[7], cy, 11.7);
}

// facet strips
[[59.2, 208.3], [222.1, 371.3], [384.4, 533.5]].forEach((s, i) => {
  const d = addDiv('strip', `left:${s[0]}px;top:16px;width:${s[1] - s[0]}px;height:30.7px;`);
  d.textContent = tdYears[i];
});

seriesLegend([96, 57, 401, 23], 68.3, PINK, tdSeriesNames, [119, 135, 215, 237.6, 318, 340, 421, 443.5]);
seriesLegend([636, 28, 397, 23], 39.5, CYAN, ssSeriesNames, [659, 675, 755, 777.4, 858.7, 880.8, 961, 982.9]);
seriesLegend([627, 375, 435, 23], 387.7, GOLD, momSeriesNames, [635, 650.5, 744, 767, 861.4, 883.5, 977, 1000]);

// heatmap legend
addDiv('lbox', 'left:80px;top:372px;width:433px;height:29px;');
const heatKeyColors = [HEAT.blue, HEAT.bisque, HEAT.salmon, HEAT.red];
const heatKeyX = [97, 176.6, 256.5, 330];
const heatTextX = [118.8, 199, 279, 352];
anoxCategories.forEach((name, i) => {
  addDiv('lkey', `left:${heatKeyX[i]}px;top:${387.7 - 6.25}px;width:12.5px;height:12.5px;background:${heatKeyColors[i]};`);
  addText(name, heatTextX[i], 387.7, 12.3);
});
addKey(svgCross(), 419, 386.5, 10);
addText('Obs. anoxia', 439.7, 387.7, 12.3);

// panel labels
[['a)', 14.5, 14], ['b)', 550.2, 14], ['c)', 15.5, 362], ['d)', 550.2, 362]].forEach(l => {
  const d = addDiv('plab', `left:${l[1]}px;top:${l[2]}px;`);
  d.textContent = l[0];
});
</script>
</body></html>
